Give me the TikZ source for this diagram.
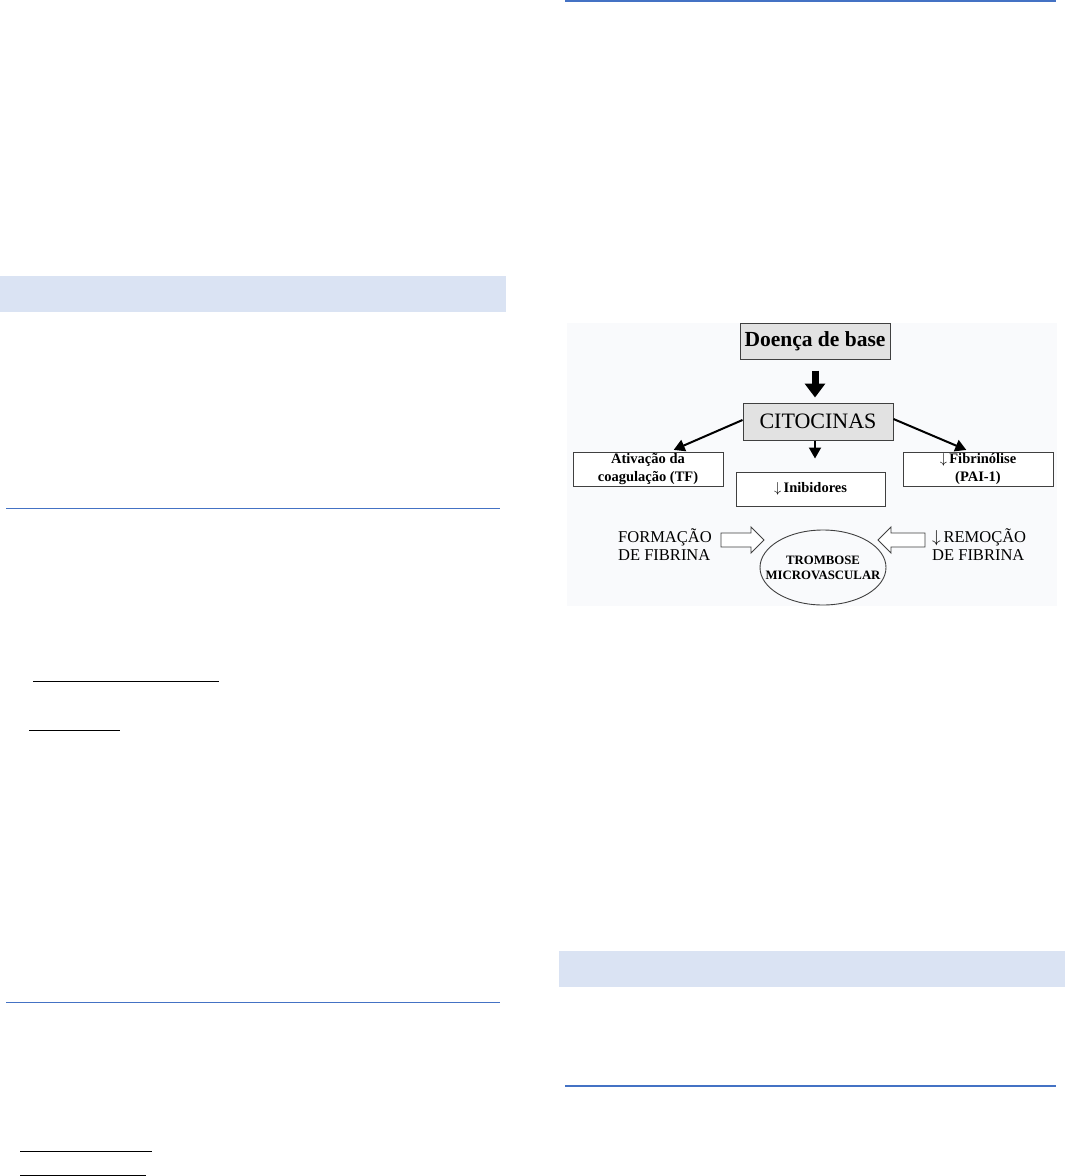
\documentclass[tikz,border=0pt]{standalone}
\usepackage{fontspec}
\setmainfont{Liberation Serif}
\usetikzlibrary{arrows.meta,shapes.geometric}
\definecolor{barblue}{HTML}{DAE3F3}
\definecolor{lineblue}{HTML}{4472C4}
\definecolor{boxgray}{HTML}{E2E2E2}
\definecolor{imgbg}{HTML}{F9FAFC}
\begin{document}
\begin{tikzpicture}[x=1pt,y=-1pt,
  bar/.style={fill=barblue, draw=none},
  rule/.style={draw=lineblue, line width=1pt},
  thickrule/.style={draw=lineblue, line width=2.2pt},
  uline/.style={draw=black, line width=1pt},
  graybox/.style={draw=black!75, line width=1pt, fill=boxgray, inner sep=0pt,
    minimum width=150pt, minimum height=36pt},
  whitebox/.style={draw=black!75, line width=1pt, fill=white, inner sep=0pt,
    minimum width=150pt, minimum height=34pt, align=center,
    font=\bfseries\fontsize{14.5}{18}\selectfont},
  conn/.style={line width=2pt, -{Triangle[width=12pt,length=11pt]}},
  hollow/.style={draw=black!75, line width=0.9pt, fill=white},
  plain/.style={inner sep=0pt, align=left, font=\fontsize{16.5}{18}\selectfont}
]
\useasboundingbox (0,0) rectangle (1065,1176);

% ---- page decorations, left column
\fill[bar] (0,276) rectangle (506,312);
\draw[rule] (6,508) -- (500,508);
\draw[uline] (33,681) -- (219,681);
\draw[uline] (29,730) -- (120,730);
\draw[rule] (6,1002) -- (500,1002);
\draw[uline] (20,1151) -- (152,1151);
\draw[uline] (20,1175) -- (146,1175);

% ---- page decorations, right column
\draw[thickrule] (565,1) -- (1056,1);
\fill[bar] (559,951) rectangle (1065,987);
\draw[thickrule] (565,1086) -- (1056,1086);

% ---- figure background
\fill[imgbg] (567,323) rectangle (1057,606);

% ---- diagram nodes
\node[graybox, font=\bfseries\fontsize{21.5}{25}\selectfont] (doenca) at (815,341) {Doença de base};
\node[graybox, minimum height=37pt, font=\fontsize{22}{26}\selectfont] (cito) at (818,421.5) {CITOCINAS};
\node[whitebox] (ativ) at (648,469) {Ativação da\\coagulação (TF)};
\node[whitebox, minimum width=149pt] (inib) at (810.5,489) {$\downarrow$\,Inibidores};
\node[whitebox] (fibr) at (978,469) {$\downarrow$\,Fibrinólise\\(PAI-1)};
\node[draw=black!75, line width=0.9pt, ellipse, minimum width=126pt, minimum height=75pt, inner sep=0pt] (trom) at (823,567.5) {};
\node[inner sep=0pt, align=center, font=\bfseries\fontsize{12.8}{15}\selectfont] (tromtxt) at (trom.center) {TROMBOSE\\MICROVASCULAR};
\node[plain, anchor=west] (form) at (618,545) {FORMAÇÃO\\DE FIBRINA};
\node[plain, anchor=west] (remo) at (932,545) {$\downarrow$\,REMOÇÃO\\DE FIBRINA};

% ---- connectors
\draw[line width=7pt, -{Triangle[width=20pt,length=14pt]}, shorten <=11pt, shorten >=5pt]
  (doenca.south) -- (doenca.south |- cito.north);
\draw[conn, shorten >=13pt] (cito.south -| doenca.south) -- (doenca.south |- inib.north);
\draw[conn, shorten >=4pt] ([yshift=1.5pt]cito.west) -- ([xshift=22pt]ativ.north);
\draw[conn, shorten >=4pt] ([yshift=2.5pt]cito.east) -- ([xshift=-8pt]fibr.north);

% ---- hollow block arrows into the ellipse
\coordinate (hl) at (721,540);
\coordinate (hr) at (925,540);
\draw[hollow] (hl) ++(0,-7) -- ++(30,0) -- ++(0,-6) -- ++(13,13) -- ++(-13,13) -- ++(0,-6) -- ++(-30,0) -- cycle;
\draw[hollow] (hr) ++(0,-7) -- ++(-34,0) -- ++(0,-6) -- ++(-13,13) -- ++(13,13) -- ++(0,-6) -- ++(34,0) -- cycle;
\end{tikzpicture}
\end{document}
